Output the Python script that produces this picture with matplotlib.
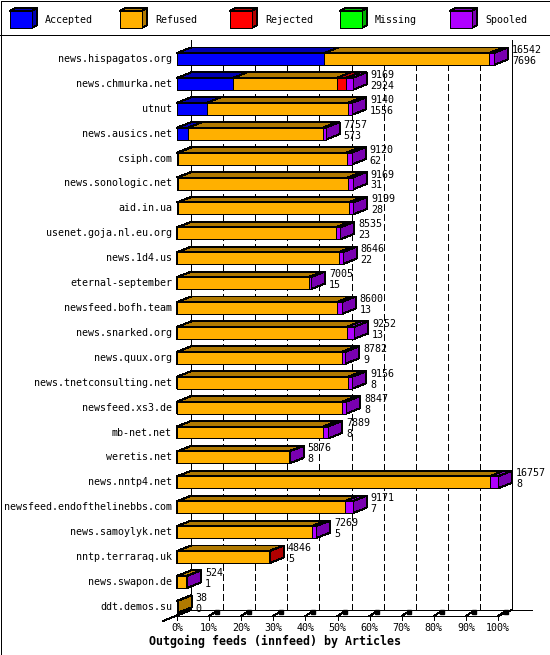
import matplotlib
matplotlib.use('Agg')
import matplotlib.pyplot as plt
from matplotlib.patches import Polygon, Rectangle

# Data (article counts per peer)
hosts = ['news.hispagatos.org', 'news.chmurka.net', 'utnut', 'news.ausics.net',
         'csiph.com', 'news.sonologic.net', 'aid.in.ua', 'usenet.goja.nl.eu.org',
         'news.1d4.us', 'eternal-september', 'newsfeed.bofh.team', 'news.snarked.org',
         'news.quux.org', 'news.tnetconsulting.net', 'newsfeed.xs3.de', 'mb-net.net',
         'weretis.net', 'news.nntp4.net', 'newsfeed.endofthelinebbs.com',
         'news.samoylyk.net', 'nntp.terraraq.uk', 'news.swapon.de', 'ddt.demos.su']
totals = [16542, 9169, 9140, 7757, 9120, 9169, 9199, 8535, 8646, 7005, 8600, 9252,
          8782, 9156, 8847, 7889, 5876, 16757, 9171, 7269, 4846, 524, 38]
accepted = [7696, 2924, 1556, 573, 62, 31, 28, 23, 22, 15, 13, 13,
            9, 8, 8, 8, 8, 8, 7, 5, 5, 1, 0]
refused = [8601, 5405, 7374, 7044, 8798, 8888, 8926, 8252, 8414, 6850, 8342, 8839,
           8598, 8923, 8629, 7621, 5828, 16314, 8749, 7039, 4811, 503, 38]
rejected = [0, 495, 0, 0, 0, 0, 0, 0, 0, 0, 0, 0,
            0, 0, 0, 0, 0, 0, 0, 0, 30, 0, 0]
missing = [0, 0, 0, 0, 0, 0, 0, 0, 0, 0, 0, 0,
           0, 0, 0, 0, 0, 0, 0, 0, 0, 0, 0]
spooled = [245, 345, 210, 140, 260, 250, 245, 260, 210, 140, 245, 400,
           175, 225, 210, 260, 40, 435, 415, 225, 0, 20, 0]

categories = ['Accepted', 'Refused', 'Rejected', 'Missing', 'Spooled']
face_colors = ['#0000ff', '#ffb000', '#ff0000', '#00ff00', '#b000ff']
side_colors = ['#0000b0', '#b07900', '#b00000', '#00b000', '#7900b0']
pct_ticks = [0, 10, 20, 30, 40, 50, 60, 70, 80, 90, 100]
title = 'Outgoing feeds (innfeed) by Articles'

FONT = 'DejaVu Sans Mono'
FS = 7.2
LW = 0.72  # one pixel
AA = False  # crisp, gd-like edges

W, H = 550, 655
fig = plt.figure(figsize=(W / 100, H / 100), dpi=100)

# frame, legend strip (pixel coordinates)
bg = fig.add_axes([0, 0, 1, 1])
bg.set_xlim(0, W)
bg.set_ylim(H, 0)
bg.axis('off')
bg.add_patch(Rectangle((0.5, 0.5), W - 1, H - 1, fill=False, ec='black', lw=LW,
                       antialiased=AA))
bg.plot([0, W], [35, 35], color='black', lw=LW, antialiased=AA)
for k, name in enumerate(categories):
    bx = 10 + 110 * k
    bg.add_patch(Polygon([(bx + 22, 11), (bx + 22, 28), (bx + 27, 25), (bx + 27, 8)],
                         fc=side_colors[k], ec='black', lw=LW, antialiased=AA))
    bg.add_patch(Polygon([(bx, 11), (bx + 22, 11), (bx + 27, 8), (bx + 5, 8)],
                         fc=side_colors[k], ec='black', lw=LW, antialiased=AA))
    bg.add_patch(Rectangle((bx, 11), 22, 17, fc=face_colors[k], ec='black', lw=LW,
                           antialiased=AA))
    bg.text(bx + 35, 20, name, fontsize=FS, family=FONT, va='center', ha='left')

# main chart geometry
X0, X100 = 177, 498
Y_TOP, Y_AXIS = 40, 616
ROW0, ROW_STEP = 59, 24.9
px_x = (X100 - X0) / 100.0

ax = fig.add_axes([X0 / W, 1 - Y_AXIS / H, (X100 - X0) / W, (Y_AXIS - Y_TOP) / H])
ax.set_xlim(0, 100)
y_axis = (Y_AXIS - ROW0) / ROW_STEP
y_top = (Y_TOP - ROW0) / ROW_STEP
ax.set_ylim(y_axis, y_top)
ax.axis('off')

dx = 14 / px_x
dy = 5.5 / ROW_STEP
hh = 6 / ROW_STEP
floor_back = y_axis - 6 / ROW_STEP


def line(xs, ys, **kw):
    ax.plot(xs, ys, color='black', lw=LW, clip_on=False, antialiased=AA, **kw)


# back walls and floor
line([dx, dx], [floor_back, y_top])
line([100 + dx, 100 + dx], [floor_back, y_top])
grid_top = (50 - ROW0) / ROW_STEP
for p in pct_ticks[1:-1]:
    line([p + dx, p + dx], [floor_back, grid_top], linestyle=(0, (6, 3)))
line([dx, (532 - X0) / px_x], [floor_back, floor_back])
line([0, 100], [y_axis, y_axis])
line([100, 100 + dx], [y_axis, floor_back])
line([-dx, dx], [y_axis + 5 / ROW_STEP, floor_back])
for p in pct_ticks:
    line([p, p], [y_axis, y_axis + 4 / ROW_STEP])
    if p > 0:
        line([p, p + 0.45 * dx], [y_axis, y_axis - 4 / ROW_STEP])
        line([p + 0.55 * dx], [y_axis - 4.5 / ROW_STEP], marker='s', ms=2.2)
    ax.text(p, (628 - ROW0) / ROW_STEP, f'{p}%', fontsize=FS, family=FONT,
            ha='center', va='center')
ax.text(50 + (275 - 337.5) / px_x, (641 - ROW0) / ROW_STEP, title, fontsize=8.4,
        family=FONT, weight='bold', ha='center', va='center')

# 3D stacked bars
series = [accepted, refused, rejected, missing, spooled]
scale = 100.0 / max(totals)
z = 3
for i, host in enumerate(hosts):
    yt, yb = i - hh, i + hh
    left = 0.0
    for k in range(len(categories)):
        v = series[k][i]
        if v <= 0:
            continue
        w = v * scale
        r = left + w
        style = dict(ec='black', lw=LW, zorder=z, clip_on=False, antialiased=AA)
        ax.add_patch(Polygon([(r, yt), (r, yb), (r + dx, yb - dy), (r + dx, yt - dy)],
                             fc=side_colors[k], **style))
        ax.add_patch(Polygon([(left, yt), (r, yt), (r + dx, yt - dy), (left + dx, yt - dy)],
                             fc=side_colors[k], **style))
        ax.add_patch(Polygon([(left, yt), (r, yt), (r, yb), (left, yb)],
                             fc=face_colors[k], **style))
        z += 1
        left = r
    tx = left + dx + 4 / px_x
    ax.text(tx, i - 9 / ROW_STEP, str(totals[i]), fontsize=FS, family=FONT,
            ha='left', va='center', zorder=200)
    ax.text(tx, i + 2 / ROW_STEP, str(accepted[i]), fontsize=FS, family=FONT,
            ha='left', va='center', zorder=200)
    ax.text(-5 / px_x, i, host, fontsize=FS, family=FONT, ha='right', va='center')

fig.savefig('out.png', dpi=100)
